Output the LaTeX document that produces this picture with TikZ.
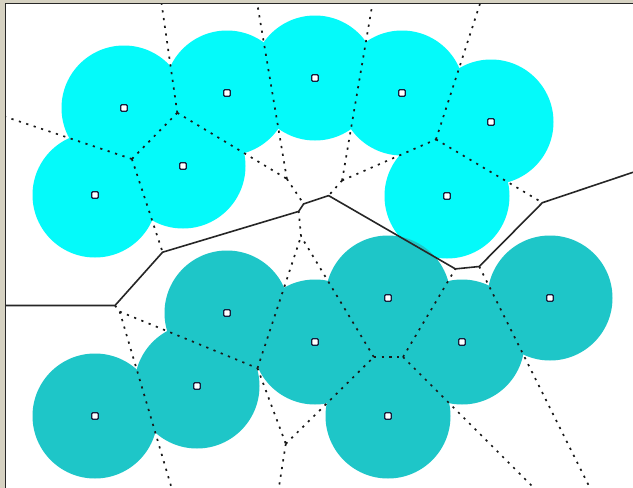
\documentclass[tikz,border=0pt]{standalone}
\definecolor{frameC}{RGB}{214,210,194}
\definecolor{edgeC}{RGB}{40,40,40}
\definecolor{cyanA}{RGB}{4,250,250}
\definecolor{tealB}{RGB}{30,198,200}
\definecolor{markC}{RGB}{20,30,60}
\tikzset{
  discA/.style={fill=cyanA, draw=none},
  discB/.style={fill=tealB, draw=none},
  vedge/.style={draw=black!90, line width=1.7pt, dash pattern=on 2.2pt off 5.6pt},
  cedge/.style={draw=black!85, line width=1.6pt, line join=round},
  site/.style={draw=markC, fill=white, line width=1.4pt, minimum size=6.5pt, inner sep=0pt, rectangle, rounded corners=1pt}
}
\begin{document}
\begin{tikzpicture}[x=1pt,y=-1pt]
\useasboundingbox (0,0) rectangle (633,488);
\fill[frameC] (0,0) rectangle (633,488);
\fill[white] (6,4) rectangle (633,488);
\draw[edgeC, line width=1.3pt] (5.6,488) -- (5.6,3.6) -- (633,3.6);
% sites
\foreach \n/\x/\y in {A1/124/108, A2/227/93, A3/315/78, A4/402/93, A5/491/122, A6/95/195, A7/183/166, A8/447/196}
  \coordinate (\n) at (\x,\y);
\foreach \n/\x/\y in {B1/227/313, B2/388/298, B3/550/298, B4/315/342, B5/462/342, B6/197/386, B7/95/416, B8/388/416}
  \coordinate (\n) at (\x,\y);
% discs
\foreach \n in {A1,A2,A3,A4,A5,A6,A7,A8} \fill[discA] (\n) circle (62.5);
\foreach \n in {B1,B2,B3,B4,B5,B6,B7,B8} \fill[discB] (\n) circle (62.5);
% Voronoi vertices
\coordinate (V1) at (177.3,112.8);
\coordinate (V2) at (131.9,159.0);
\coordinate (V3) at (162.6,252.2);
\coordinate (V4) at (115.0,305.5);
\coordinate (V5) at (119.7,311.6);
\coordinate (V6) at (257.5,368.2);
\coordinate (V7) at (285.8,443.8);
\coordinate (V8) at (373.8,357.0);
\coordinate (V9) at (403.0,357.0);
\coordinate (V10) at (301.0,236.3);
\coordinate (V11) at (286.9,178.9);
\coordinate (V14) at (298.7,211.4);
\coordinate (V15) at (303.6,203.9);
\coordinate (V17) at (328.6,195.6);
\coordinate (V18) at (455.4,268.9);
\coordinate (V19) at (479.2,266.5);
\coordinate (V20) at (542.4,202.7);
\coordinate (V21) at (436.0,139.4);
\coordinate (V22) at (342.1,180.5);
% border end points
\coordinate (T1) at (161.6,4);
\coordinate (T2) at (257.3,4);
\coordinate (T3) at (372.4,4);
\coordinate (T4) at (479.9,4);
\coordinate (L1) at (6,117.0);
\coordinate (L2) at (6,305.5);
\coordinate (R1) at (633,172.3);
\coordinate (D1) at (171.6,488);
\coordinate (D2) at (278.8,488);
\coordinate (D3) at (534,488);
\coordinate (D4) at (590,488);
% dotted Voronoi edges
\foreach \a/\b in {V1/T1, V11/T2, V22/T3, V21/T4, V2/L1, V1/V2, V1/V11, V11/V15, V2/V3,
  V22/V17, V22/V21, V21/V20, V4/V5, V5/D1, V5/V6, V6/V10, V6/V7, V7/D2, V7/V8, V8/V9,
  V8/V10, V10/V14, V9/V18, V9/D3, V19/D4}
  \draw[vedge] (\a) -- (\b);
% class boundary
\draw[cedge] (L2) -- (V4) -- (V3) -- (V14) -- (V15) -- (V17) -- (V18) -- (V19) -- (V20) -- (R1);
% site markers
\foreach \n in {A1,A2,A3,A4,A5,A6,A7,A8,B1,B2,B3,B4,B5,B6,B7,B8}
  \node[site] (m\n) at (\n) {};
\end{tikzpicture}
\end{document}
